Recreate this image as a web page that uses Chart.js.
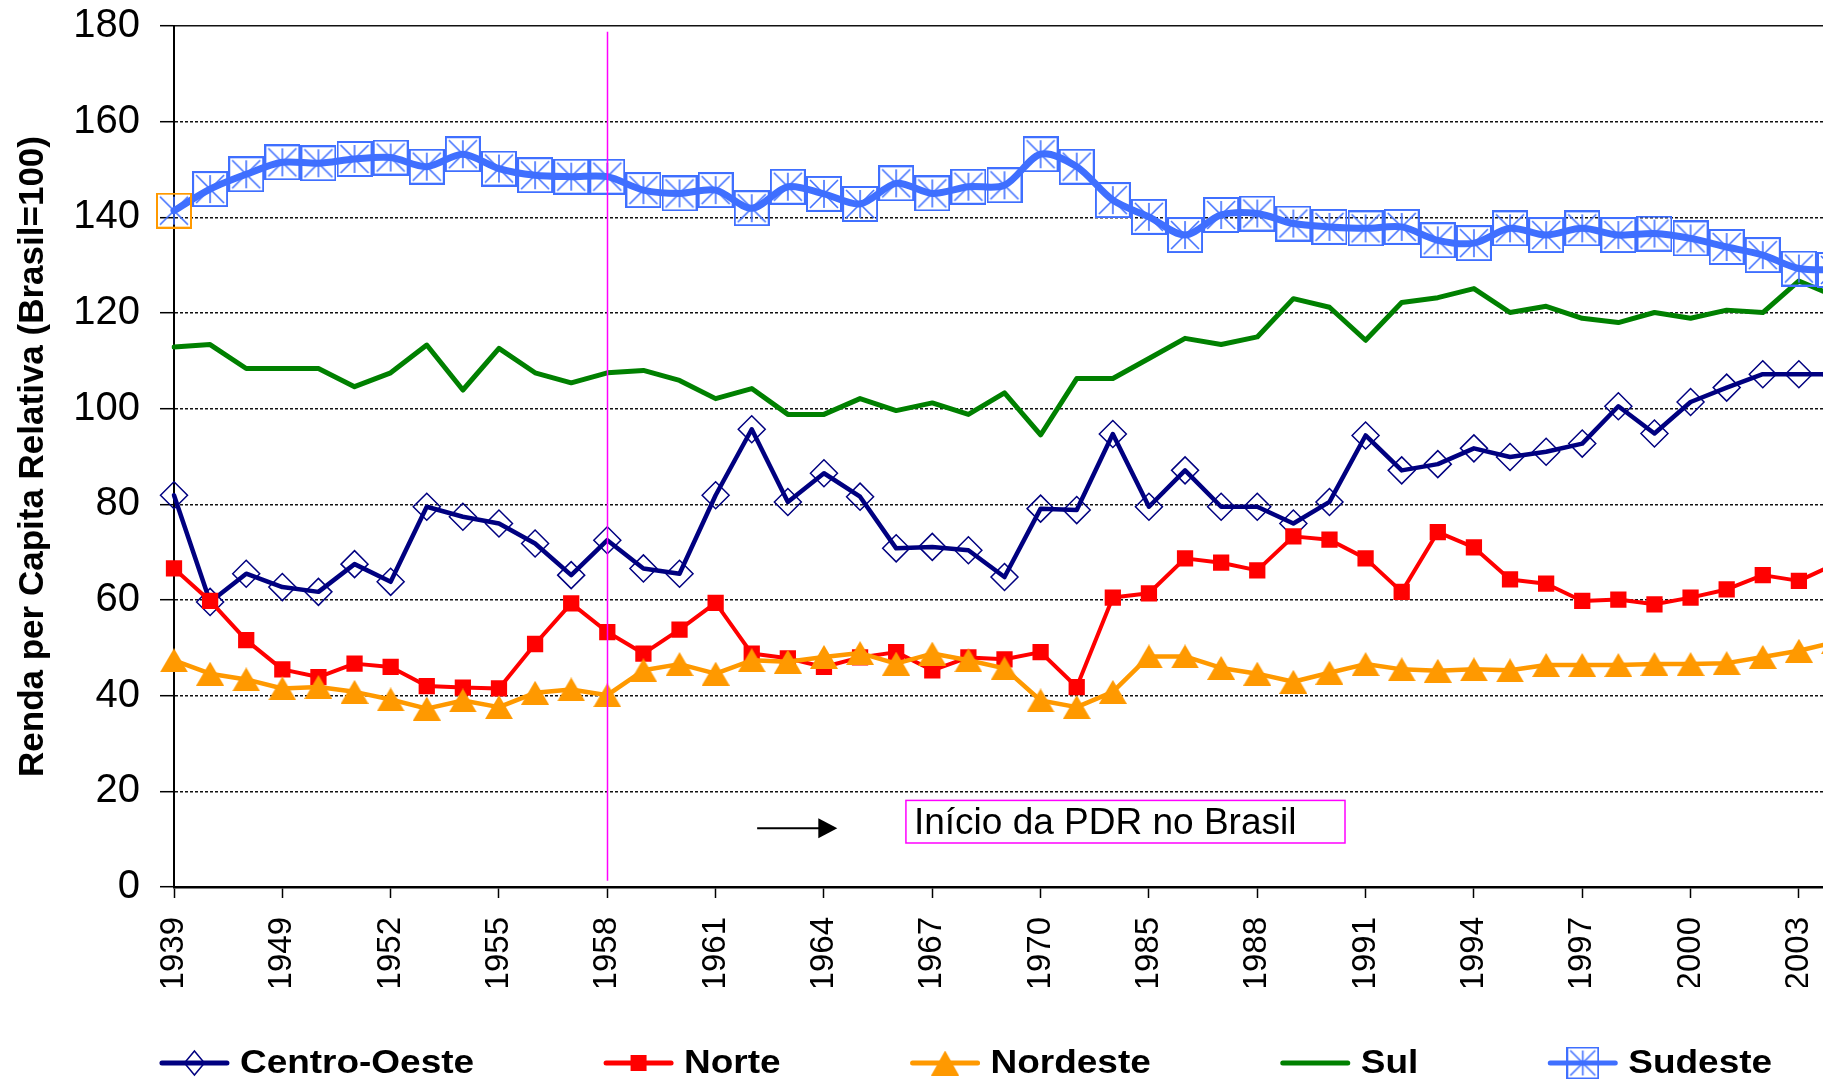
<!DOCTYPE html>
<html>
<head>
<meta charset="utf-8">
<script src="https://cdn.jsdelivr.net/npm/chart.js@4/dist/chart.umd.min.js"></script>
<style>
html,body{margin:0;padding:0;background:#fff;overflow:hidden;width:1823px;height:1079px}
#wrap{width:1880px;height:1079px}
</style>
</head>
<body>
<div id="wrap"><canvas id="c" width="1880" height="1079"></canvas></div>
<script>
// ---------------- data ----------------
const years = ['1939','1947','1948','1949','1950','1951','1952','1953','1954','1955','1956','1957','1958','1959','1960','1961','1962','1963','1964','1965','1966','1967','1968','1969','1970','1975','1980','1985','1986','1987','1988','1989','1990','1991','1992','1993','1994','1995','1996','1997','1998','1999','2000','2001','2002','2003','2004'];

const centroOeste = [81.9,59.6,65.5,62.7,61.7,67.5,63.8,79.5,77.4,76.0,71.8,65.2,72.5,66.6,65.5,81.9,95.7,80.5,86.5,81.6,70.8,71.1,70.4,64.8,79.1,78.8,94.7,79.5,87.1,79.5,79.5,76.0,80.5,94.4,87.1,88.4,91.7,89.9,91.0,92.7,100.5,94.8,101.4,104.4,107.2,107.2,107.2];
const norte = [66.6,59.8,51.6,45.5,43.9,46.7,46.0,42.0,41.7,41.5,50.8,59.3,53.3,48.8,53.8,59.4,48.8,47.8,46.0,48.0,49.1,45.3,48.0,47.6,49.1,41.8,60.5,61.4,68.7,67.8,66.2,73.3,72.6,68.7,61.7,74.2,71.0,64.3,63.4,59.8,60.1,59.1,60.5,62.2,65.2,64.0,67.5];
const nordeste = [47.4,44.6,43.4,41.5,41.8,40.8,39.2,37.3,39.0,37.6,40.6,41.3,40.1,45.3,46.6,44.6,47.4,47.1,48.1,48.9,46.7,48.8,47.4,45.7,39.0,37.6,40.8,48.2,48.2,45.8,44.6,42.9,44.8,46.6,45.5,45.2,45.5,45.3,46.4,46.4,46.4,46.6,46.6,46.8,48.1,49.4,51.2];
const sul = [112.9,113.4,108.4,108.4,108.4,104.6,107.5,113.3,103.9,112.6,107.5,105.4,107.5,108.0,105.9,102.1,104.2,98.8,98.8,102.1,99.6,101.2,98.8,103.3,94.5,106.3,106.3,110.5,114.7,113.4,115.0,123.0,121.2,114.3,122.2,123.2,125.1,120.1,121.4,118.9,118.0,120.1,118.9,120.6,120.1,126.7,123.5];
const sudeste = [141.4,145.9,149.0,151.5,151.3,152.2,152.5,150.6,153.2,150.2,148.8,148.5,148.5,145.7,145.0,145.7,141.9,146.4,144.9,142.8,147.1,145.0,146.4,146.7,153.2,150.6,143.6,140.1,136.3,140.5,140.8,138.7,138.0,137.7,138.0,135.2,134.6,137.7,136.3,137.7,136.3,136.6,135.6,133.8,132.1,129.3,129.0];

const seriesNames = ['Centro-Oeste','Norte','Nordeste','Sul','Sudeste'];
const yAxisTitle = 'Renda per Capita Relativa (Brasil=100)';
const yMin = 0, yMax = 180, yStep = 20;
const labelEvery = 3;

// annotation (in data units: category index / value)
const pdrYear = '1958';
const pdrLineTop = 178.8, pdrLineBottom = 1.3;
const pdrText = 'Início da PDR no Brasil';
const arrowFrom = 16.15, arrowTo = 18.37, arrowValue = 12.3;
const boxFrom = 20.27, boxTo = 32.43, boxTop = 18.1, boxBottom = 9.2;

// ---------------- styles ----------------
const FONT = '"Liberation Sans", Arial, Helvetica, sans-serif';
const C_CO = '#000080', C_N = '#FF0000', C_NE = '#FF9900', C_S = '#008000', C_SE = '#3F6FFF';

function sudesteMarker(size, frameColor) {
  const c = document.createElement('canvas');
  c.width = size + 2; c.height = size + 2;
  const g = c.getContext('2d');
  const a = 1, b = size + 1, m = (size + 2) / 2, i = 3;
  g.strokeStyle = C_SE; g.lineWidth = 1.6;
  g.beginPath();
  g.moveTo(a + i, a + i); g.lineTo(b - i, b - i);
  g.moveTo(b - i, a + i); g.lineTo(a + i, b - i);
  g.moveTo(m, a + i); g.lineTo(m, b - i);
  g.stroke();
  g.strokeStyle = frameColor; g.lineWidth = 2;
  g.strokeRect(a, a, size, size);
  return c;
}
function triangleMarker(w, h) {
  const c = document.createElement('canvas');
  c.width = w; c.height = h;
  const g = c.getContext('2d');
  g.fillStyle = C_NE;
  g.beginPath(); g.moveTo(w / 2, 0); g.lineTo(w, h); g.lineTo(0, h); g.closePath(); g.fill();
  return c;
}
const seMarker = sudesteMarker(34, C_SE);
const seMarkerSel = sudesteMarker(34, '#FF9900');
const seMarkerLegend = sudesteMarker(31, C_SE);
const neMarker = triangleMarker(28, 24);
const neMarkerLegend = triangleMarker(28, 25);

// ---------------- overlay plugin (annotation + legend) ----------------
const overlay = {
  id: 'overlay',
  afterDatasetsDraw(chart) {
    const {ctx, scales: {x, y}} = chart;
    ctx.save();
    // vertical line
    const px = Math.round(x.getPixelForValue(years.indexOf(pdrYear))) + 0.5;
    ctx.strokeStyle = '#FF00FF'; ctx.lineWidth = 1.5;
    ctx.beginPath();
    ctx.moveTo(px, y.getPixelForValue(pdrLineTop));
    ctx.lineTo(px, y.getPixelForValue(pdrLineBottom));
    ctx.stroke();
    // arrow
    const ax0 = x.getPixelForValue(arrowFrom), ax1 = x.getPixelForValue(arrowTo), ay = y.getPixelForValue(arrowValue);
    ctx.strokeStyle = '#000'; ctx.fillStyle = '#000'; ctx.lineWidth = 2;
    ctx.beginPath(); ctx.moveTo(ax0, ay); ctx.lineTo(ax1 - 16, ay); ctx.stroke();
    ctx.beginPath(); ctx.moveTo(ax1, ay); ctx.lineTo(ax1 - 19, ay - 10); ctx.lineTo(ax1 - 19, ay + 10); ctx.closePath(); ctx.fill();
    // box
    const bx0 = x.getPixelForValue(boxFrom), bx1 = x.getPixelForValue(boxTo);
    const by0 = y.getPixelForValue(boxTop), by1 = y.getPixelForValue(boxBottom);
    ctx.fillStyle = '#fff'; ctx.fillRect(bx0, by0, bx1 - bx0, by1 - by0);
    ctx.strokeStyle = '#FF00FF'; ctx.lineWidth = 1.5;
    ctx.strokeRect(bx0, by0, bx1 - bx0, by1 - by0);
    ctx.fillStyle = '#000'; ctx.font = '37px ' + FONT; ctx.textBaseline = 'middle'; ctx.textAlign = 'left';
    ctx.fillText(pdrText, bx0 + 8, (by0 + by1) / 2 + 2);
    ctx.restore();
  },
  afterDraw(chart) {
    const ctx = chart.ctx;
    const legendCenter = 966, legendY = 1063, symW = 69, symGap = 11, itemGap = 130, stretch = 1.12;
    ctx.save();
    ctx.font = 'bold 33px ' + FONT;
    ctx.textBaseline = 'middle'; ctx.textAlign = 'left';
    const dss = chart.data.datasets;
    const widths = dss.map(ds => symW + symGap + stretch * ctx.measureText(ds.label).width);
    const total = widths.reduce((a, b) => a + b, 0) + itemGap * (dss.length - 1);
    let x0 = legendCenter - total / 2;
    dss.forEach((ds, i) => {
      ctx.strokeStyle = ds.borderColor; ctx.lineWidth = 5; ctx.lineCap = 'round';
      ctx.beginPath(); ctx.moveTo(x0 + 2, legendY); ctx.lineTo(x0 + symW - 2, legendY); ctx.stroke();
      const mx = x0 + symW / 2, lm = ds.legendMarker;
      if (lm) {
        if (lm.image) {
          ctx.drawImage(lm.image, mx - lm.image.width / 2, legendY - lm.image.height / 2);
        } else if (lm.style === 'diamond') {
          ctx.strokeStyle = ds.borderColor; ctx.lineWidth = 1.5;
          ctx.beginPath(); ctx.moveTo(mx, legendY - lm.h); ctx.lineTo(mx + lm.w, legendY); ctx.lineTo(mx, legendY + lm.h); ctx.lineTo(mx - lm.w, legendY); ctx.closePath(); ctx.stroke();
        } else if (lm.style === 'square') {
          ctx.fillStyle = ds.borderColor; ctx.fillRect(mx - lm.s / 2, legendY - lm.s / 2, lm.s, lm.s);
        }
      }
      ctx.fillStyle = '#000';
      ctx.save();
      ctx.translate(x0 + symW + symGap, legendY + 1);
      ctx.scale(stretch, 1);
      ctx.fillText(ds.label, 0, 0);
      ctx.restore();
      x0 += widths[i] + itemGap;
    });
    ctx.restore();
  }
};

// ---------------- chart ----------------
new Chart(document.getElementById('c'), {
  type: 'line',
  data: {
    labels: years,
    datasets: [
      {label: seriesNames[0], data: centroOeste, borderColor: C_CO, borderWidth: 4.5, tension: 0,
       pointStyle: 'rectRot', pointRadius: 13.5, pointBorderWidth: 1.5, pointBorderColor: C_CO,
       pointBackgroundColor: 'rgba(0,0,0,0)', order: 4, legendMarker: {style: 'diamond', w: 10, h: 12}},
      {label: seriesNames[1], data: norte, borderColor: C_N, borderWidth: 4, tension: 0,
       pointStyle: 'rect', pointRadius: 11.5, pointBorderWidth: 0, pointBackgroundColor: C_N,
       pointBorderColor: C_N, order: 3, legendMarker: {style: 'square', s: 16}},
      {label: seriesNames[2], data: nordeste, borderColor: C_NE, borderWidth: 4.5, tension: 0,
       pointStyle: neMarker, pointRadius: 12, order: 2, legendMarker: {image: neMarkerLegend}},
      {label: seriesNames[3], data: sul, borderColor: C_S, borderWidth: 5, tension: 0,
       pointRadius: 0, order: 1, legendMarker: null},
      {label: seriesNames[4], data: sudeste, borderColor: C_SE, borderWidth: 7, tension: 0.3,
       pointStyle: sudeste.map((v, i) => i === 0 ? seMarkerSel : seMarker), pointRadius: 17,
       order: 0, legendMarker: {image: seMarkerLegend}}
    ]
  },
  options: {
    responsive: false, animation: false, devicePixelRatio: 1,
    datasets: {line: {borderJoinStyle: 'round', borderCapStyle: 'round', fill: false}},
    layout: {padding: {top: 26, right: 45, bottom: 92, left: 0}},
    plugins: {legend: {display: false}, tooltip: {enabled: false}},
    scales: {
      x: {
        type: 'category', offset: false,
        grid: {display: true, drawOnChartArea: false, drawTicks: true, tickLength: 11, tickColor: '#000', tickWidth: 1.5},
        border: {display: true, color: '#000', width: 2.5},
        ticks: {autoSkip: false, minRotation: 90, maxRotation: 90, padding: 19, color: '#000',
                font: {family: FONT, size: 33}},
        afterBuildTicks: a => { a.ticks = a.ticks.filter(t => t.value % labelEvery === 0); },
        afterFit: s => { s.height = 100; s.paddingLeft = 0; s.paddingRight = 0; }
      },
      y: {
        min: yMin, max: yMax,
        ticks: {stepSize: yStep, padding: 20, color: '#000', font: {family: FONT, size: 40}},
        grid: {color: c => (c.tick && c.tick.value === yMin) ? 'rgba(0,0,0,0)' : '#111', lineWidth: 1.4,
               tickLength: 14, tickColor: '#000', tickWidth: 1.5},
        border: {display: true, color: '#000', width: 2,
                 dash: c => (c.tick && c.tick.value === yMax) ? [] : [3, 2]},
        title: {display: true, text: yAxisTitle, color: '#000',
                font: {family: FONT, size: 35, weight: 'bold'}, padding: {top: 12, bottom: 0}},
        afterFit: s => { s.width = 174; s.paddingTop = 0; s.paddingBottom = 0; }
      }
    }
  },
  plugins: [overlay]
});
</script>
</body>
</html>
